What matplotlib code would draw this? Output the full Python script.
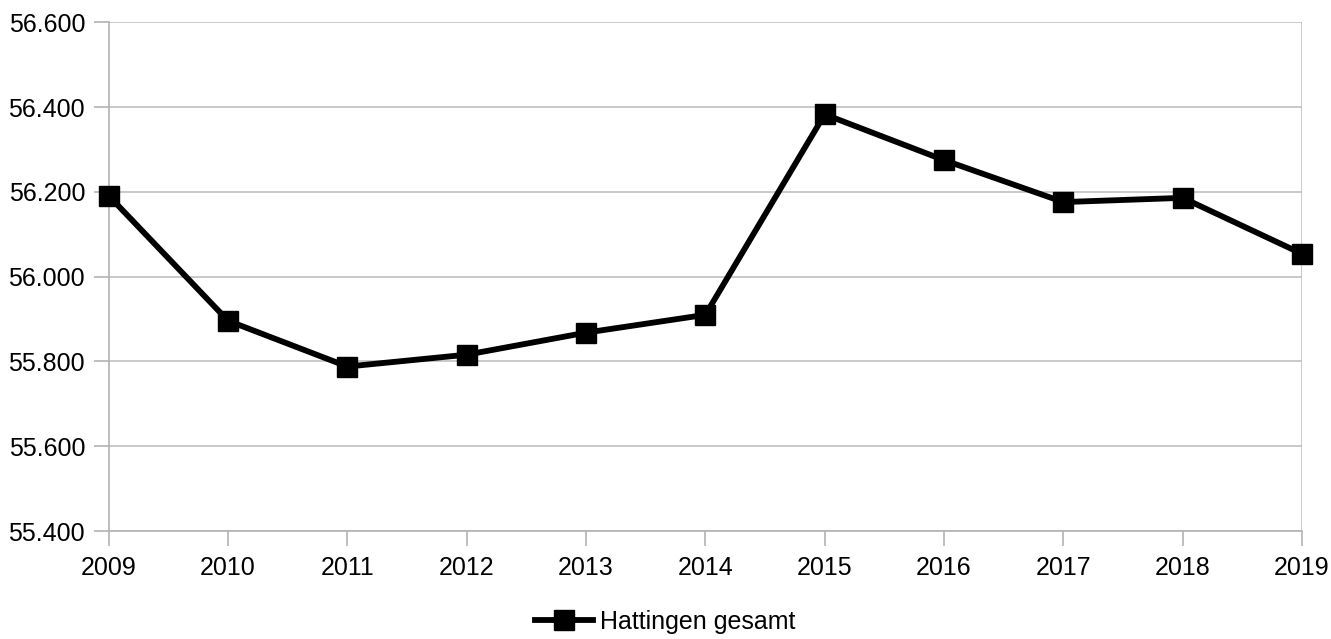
import matplotlib
matplotlib.use("Agg")
import matplotlib.pyplot as plt
from matplotlib.ticker import FuncFormatter

# --- data ---
years = [2009, 2010, 2011, 2012, 2013, 2014, 2015, 2016, 2017, 2018, 2019]
einwohner = [56191, 55896, 55788, 55816, 55868, 55910, 56383, 56275, 56176, 56186, 56054]
series_name = "Hattingen gesamt"

plt.rcParams['font.family'] = ['Liberation Sans', 'DejaVu Sans']

fig = plt.figure(figsize=(13.31, 6.39), dpi=100)
ax = fig.add_axes([0.0817, 0.169, 0.8965, 0.796])

ax.plot(years, einwohner, color="black", linewidth=4.2, marker="s",
        markersize=14, label=series_name, clip_on=False, zorder=3)

ax.set_xlim(years[0], years[-1])
ax.set_ylim(55400, 56600)
ax.set_xticks(years)
ax.set_yticks(range(55400, 56601, 200))
# German thousands separator
ax.yaxis.set_major_formatter(FuncFormatter(lambda v, _: f"{int(v):,}".replace(",", ".")))

ax.grid(axis="y", color="#c0c0c0", linewidth=1.2)
ax.set_axisbelow(True)
for side in ["top", "right"]:
    ax.spines[side].set_visible(False)
ax.spines["left"].set_color("#b3b3b3")
ax.spines["bottom"].set_color("#b3b3b3")
ax.spines["left"].set_linewidth(1.2)
ax.spines["bottom"].set_linewidth(1.2)
ax.tick_params(axis="both", colors="#b3b3b3", length=11, width=1.2, labelsize=18,
               labelcolor="black")
ax.tick_params(axis="x", pad=7)
ax.tick_params(axis="y", pad=6)

# right edge line at the last year like the reference
ax.axvline(years[-1], color="#c0c0c0", linewidth=1.2, zorder=0)

leg = fig.legend(loc="center", bbox_to_anchor=(0.5, 0.027), frameon=False, fontsize=18,
                 handlelength=2.3, handletextpad=0.3)

fig.savefig("out.png", dpi=100)
